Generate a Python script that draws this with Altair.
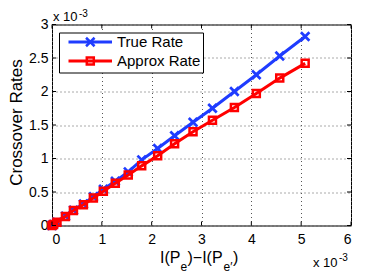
import altair as alt
import pandas as pd

# data (x in units of 1e-3, y in units of 1e-3)
x_vals = [0, 0.03, 0.1, 0.27, 0.43, 0.63, 0.83, 1.03, 1.27, 1.53, 1.8, 2.12, 2.46, 2.83, 3.22, 3.66, 4.1, 4.57, 5.08]
true_rate = [0, 0.015, 0.05, 0.14, 0.23, 0.32, 0.43, 0.54, 0.66, 0.80, 0.98, 1.15, 1.34, 1.54, 1.75, 2.0, 2.25, 2.53, 2.82]
approx_rate = [0, 0.015, 0.05, 0.135, 0.225, 0.31, 0.41, 0.51, 0.63, 0.755, 0.89, 1.04, 1.22, 1.40, 1.57, 1.76, 1.97, 2.20, 2.42]
x_ticks = [0, 1, 2, 3, 4, 5, 6]
y_ticks = [0, 0.5, 1, 1.5, 2, 2.5, 3]
series_names = ["True Rate", "Approx Rate"]

BLUE = "#1f3cff"
RED = "#ff0000"
FONT = "Liberation Sans"
W, H = 299, 201

df_true = pd.DataFrame({"x": x_vals, "y": true_rate})
df_approx = pd.DataFrame({"x": x_vals, "y": approx_rate})

xscale = alt.Scale(domain=[0, 6], nice=False, zero=False)
yscale = alt.Scale(domain=[0, 3], nice=False, zero=False)

xaxis = alt.Axis(values=x_ticks, grid=True, gridDash=[1, 3], gridColor="#555555", gridWidth=1,
                 ticks=False, domain=False, labelFontSize=14, labelPadding=7, labelFont=FONT,
                 labelColor="black", title=None, labelExpr="datum.value")
yaxis = alt.Axis(values=y_ticks, grid=True, gridDash=[1, 3], gridColor="#555555", gridWidth=1,
                 ticks=False, domain=False, labelFontSize=14, labelPadding=4, labelFont=FONT,
                 labelColor="black", title=None, labelExpr="datum.value")

X = alt.X("x:Q", scale=xscale, axis=xaxis)
Y = alt.Y("y:Q", scale=yscale, axis=yaxis)

XPATH = "M-1,-1L1,1M-1,1L1,-1"

blue_line = alt.Chart(df_true).mark_line(color=BLUE, strokeWidth=3).encode(x=X, y=Y)
blue_pts = alt.Chart(df_true).mark_point(shape=XPATH, filled=False, stroke=BLUE, strokeWidth=2.7,
                                         size=72, opacity=1).encode(x=X, y=Y)
red_line = alt.Chart(df_approx).mark_line(color=RED, strokeWidth=3).encode(x=X, y=Y)
red_pts = alt.Chart(df_approx).mark_point(shape="square", filled=False, stroke=RED, strokeWidth=2.5,
                                          size=49, opacity=1).encode(x=X, y=Y)

# inward tick marks on all four sides
df_xt = pd.DataFrame({"x": x_ticks})
df_yt = pd.DataFrame({"y": y_ticks})
TL = 4
xt_bottom = alt.Chart(df_xt).mark_rule(color="black", strokeWidth=1).encode(
    x=X, y=alt.value(H), y2=alt.value(H - TL))
xt_top = alt.Chart(df_xt).mark_rule(color="black", strokeWidth=1).encode(
    x=X, y=alt.value(0), y2=alt.value(TL))
yt_left = alt.Chart(df_yt).mark_rule(color="black", strokeWidth=1).encode(
    y=Y, x=alt.value(0), x2=alt.value(TL))
yt_right = alt.Chart(df_yt).mark_rule(color="black", strokeWidth=1).encode(
    y=Y, x=alt.value(W), x2=alt.value(W - TL))


def txt(s, x, y, size, align="left", baseline="middle", angle=0):
    return alt.Chart(pd.DataFrame({"t": [s]})).mark_text(
        font=FONT, fontSize=size, color="black", align=align, baseline=baseline, angle=angle
    ).encode(x=alt.value(x), y=alt.value(y), text="t:N")


annots = [
    txt("x 10", 1, -7.5, 13),
    txt("-3", 27, -10.5, 10),
    txt("x 10", 261, 238.5, 13),
    txt("-3", 287, 233, 10),
    # x title  I(P_e)-I(P_e')
    txt("I(P", 108, 233.5, 16),
    txt("e", 128.5, 242, 12),
    txt(")\u2212I(P", 135.5, 233.5, 16),
    txt("e\u2032", 171.5, 242, 12),
    txt(")", 181, 233.5, 16),
    # y title
    txt("Crossover Rates", -30, 98, 17, align="center", baseline="alphabetic", angle=270),
]

# legend (manual)
leg_box = alt.Chart(pd.DataFrame({"a": [0]})).mark_rect(fill="white", stroke="black", strokeWidth=1).encode(
    x=alt.value(7.5), x2=alt.value(151.5), y=alt.value(8.5), y2=alt.value(48.5))
leg_items = []
for name, col, yy, shape, size in [(series_names[0], BLUE, 17.5, XPATH, 72),
                                    (series_names[1], RED, 36.5, "square", 49)]:
    leg_items.append(alt.Chart(pd.DataFrame({"a": [0]})).mark_rule(color=col, strokeWidth=3).encode(
        x=alt.value(16.5), x2=alt.value(60), y=alt.value(yy)))
    leg_items.append(alt.Chart(pd.DataFrame({"a": [0]})).mark_point(
        shape=shape, filled=False, stroke=col, strokeWidth=2.5, size=size, opacity=1).encode(
        x=alt.value(38.3), y=alt.value(yy)))
    leg_items.append(txt(name, 65, yy, 15))

chart = alt.layer(
    blue_line, blue_pts, red_line, red_pts,
    xt_bottom, xt_top, yt_left, yt_right,
    *annots, leg_box, *leg_items
).properties(
    width=W, height=H,
    autosize="none",
    padding={"left": 44, "top": 16.5, "right": 28, "bottom": 52},
    background="white",
).configure_view(stroke="black", strokeWidth=1)

chart.save("out.html", embed_options={"renderer": "svg", "actions": False})
